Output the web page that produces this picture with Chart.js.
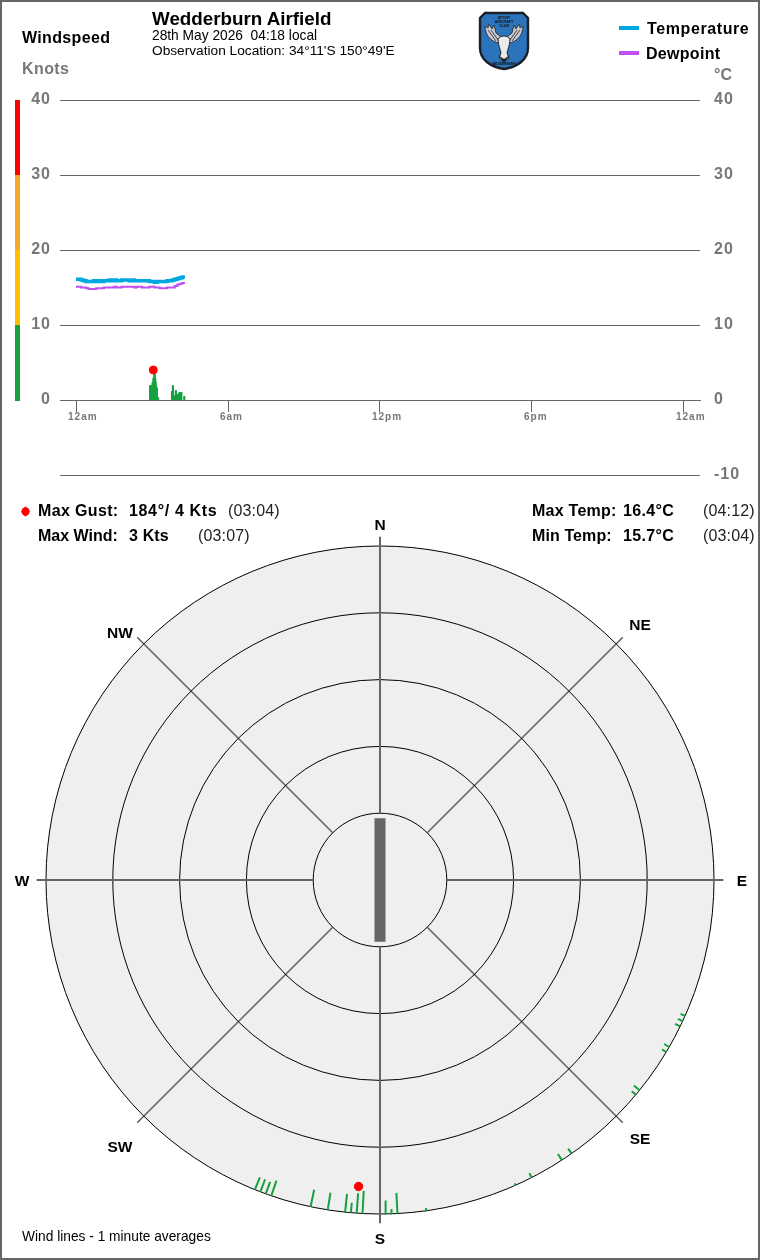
<!DOCTYPE html>
<html><head><meta charset="utf-8"><title>Wedderburn Airfield</title>
<script src="https://cdn.jsdelivr.net/npm/chart.js@4/dist/chart.umd.min.js"></script>
<style>
html,body{margin:0;padding:0;background:#fff}
#page{position:relative;width:760px;height:1260px;overflow:hidden;font-family:"Liberation Sans",Arial,sans-serif;color:#000;background:#fff}
#frame{position:absolute;left:0;top:0;width:756px;height:1256px;border:2px solid #666;pointer-events:none}
canvas{position:absolute;left:0}
.t{position:absolute;white-space:pre;line-height:1;transform:translateY(-50%)}
.b{font-weight:700}
.c{transform:translate(-50%,-50%);font-weight:700;font-size:15.5px}
.sw{position:absolute;width:20px;height:4px}
</style></head><body><div id="page">
<canvas id="line" width="760" height="500" style="top:0"></canvas>
<canvas id="polar" width="760" height="760" style="top:500px"></canvas>
<div id="frame"></div>
<div class="t b" style="left:22px;top:38px;font-size:16px;letter-spacing:.35px">Windspeed</div>
<div class="t b" style="left:22px;top:69px;font-size:16px;letter-spacing:.4px;color:#777">Knots</div>
<div class="t b" style="left:152px;top:19px;font-size:18.8px">Wedderburn Airfield</div>
<div class="t" style="left:152px;top:36px;font-size:13.75px">28th May 2026  04:18 local</div>
<div class="t" style="left:152px;top:51px;font-size:13.7px">Observation Location: 34°11'S 150°49'E</div>
<svg style="position:absolute;left:478px;top:11px" width="52" height="60" viewBox="0 0 52 60">
<path d="M7 2H45L50 7V37C50 49 39 56 26 58C13 56 2 49 2 37V7Z" fill="#2b74bb" stroke="#1a1f28" stroke-width="2.4"/>
<path d="M24 32C16 33 7 26 7 15L10 17L11 13L14 18L16 14L18 22L23 26Z" fill="#c8ccd0" stroke="#2a2f36" stroke-width=".9"/>
<path d="M28 32C36 33 45 26 45 15L42 17L41 13L38 18L36 14L34 22L29 26Z" fill="#c8ccd0" stroke="#2a2f36" stroke-width=".9"/>
<path d="M10 19L18 30M13 19L20 29M42 19L34 30M39 19L32 29" stroke="#333" stroke-width=".9" fill="none"/>
<path d="M20 28C22 24 30 24 32 28C32 33 30 38 29 42L31 47L26 51L21 47L23 42C22 38 20 33 20 28Z" fill="#e8eaec" stroke="#20252b" stroke-width="1"/>
<path d="M20 44L26 52L32 44L26 48Z" fill="#20252b"/>
<text x="26" y="8" font-size="3.6" font-weight="700" text-anchor="middle" fill="#111">SPORT</text>
<text x="26" y="12" font-size="3.6" font-weight="700" text-anchor="middle" fill="#111">AIRCRAFT</text>
<text x="26" y="16" font-size="3.6" font-weight="700" text-anchor="middle" fill="#111">CLUB</text>
<text x="26" y="54" font-size="3.2" font-weight="700" text-anchor="middle" fill="#111">WEDDERBURN</text>
</svg>
<div class="sw" style="left:619px;top:26px;background:#00a8e0"></div>
<div class="sw" style="left:619px;top:51px;background:#c050f0"></div>
<div class="t b" style="left:647px;top:29px;font-size:16px;letter-spacing:.6px">Temperature</div>
<div class="t b" style="left:646px;top:54px;font-size:16px;letter-spacing:.3px">Dewpoint</div>
<div class="t b" style="left:714px;top:75px;font-size:16px;color:#777">°C</div>

<svg style="position:absolute;left:20px;top:506px" width="11" height="11"><path d="M5.5 .5L8.5 2.5L10 5.5L8.5 8.5L5.5 10.5L2.5 8.5L1 5.5L2.5 2.5Z" fill="#f00"/></svg>
<div class="t b" style="left:38px;top:511px;font-size:16px;letter-spacing:.35px">Max Gust:</div>
<div class="t b" style="left:129px;top:511px;font-size:16px;letter-spacing:.65px">184°/ 4 Kts</div>
<div class="t" style="left:228px;top:511px;font-size:16px;letter-spacing:.15px;color:#222">(03:04)</div>
<div class="t b" style="left:38px;top:536px;font-size:16px">Max Wind:</div>
<div class="t b" style="left:129px;top:536px;font-size:16px;letter-spacing:.15px">3 Kts</div>
<div class="t" style="left:198px;top:536px;font-size:16px;letter-spacing:.15px;color:#222">(03:07)</div>
<div class="t b" style="left:532px;top:511px;font-size:16px;letter-spacing:.25px">Max Temp:</div>
<div class="t b" style="left:623px;top:511px;font-size:16px;letter-spacing:.35px">16.4°C</div>
<div class="t" style="left:703px;top:511px;font-size:16px;letter-spacing:.15px;color:#222">(04:12)</div>
<div class="t b" style="left:532px;top:536px;font-size:16px;letter-spacing:.1px">Min Temp:</div>
<div class="t b" style="left:623px;top:536px;font-size:16px;letter-spacing:.35px">15.7°C</div>
<div class="t" style="left:703px;top:536px;font-size:16px;letter-spacing:.15px;color:#222">(03:04)</div>

<div class="t c" style="left:380px;top:525px">N</div>
<div class="t c" style="left:640px;top:625px">NE</div>
<div class="t c" style="left:742px;top:881px">E</div>
<div class="t c" style="left:640px;top:1139px">SE</div>
<div class="t c" style="left:380px;top:1239px">S</div>
<div class="t c" style="left:120px;top:1147px">SW</div>
<div class="t c" style="left:22px;top:881px">W</div>
<div class="t c" style="left:120px;top:633px">NW</div>
<div class="t" style="left:22px;top:1237px;font-size:13.75px">Wind lines - 1 minute averages</div>
</div>
<script>
// ---------- data ----------
const tickMinutes = [0, 360, 720, 1080, 1440];
const tickLabels = ['12am', '6am', '12pm', '6pm', '12am'];
const sampleMinutes = [0,6,12,18,24,30,36,42,48,54,60,66,72,78,84,90,96,102,108,114,120,126,132,138,144,150,156,162,168,174,180,186,192,198,204,210,216,222,228,234,240,246,252,258];
const temperature = [16.1,16.1,16.0,15.9,15.8,15.8,15.8,15.9,15.8,15.9,15.8,15.9,15.9,16.0,15.9,16.0,15.9,15.9,16.0,16.0,16.0,15.9,16.0,15.9,15.9,15.9,15.9,15.9,15.9,15.8,15.8,15.7,15.8,15.8,15.8,15.8,15.9,15.9,16.0,16.1,16.2,16.3,16.4,16.4];
const dewpoint = [15.1,15.1,15.0,15.0,14.9,14.8,14.8,14.8,14.9,14.9,14.9,15.0,15.0,15.0,15.0,15.1,15.0,15.0,15.1,15.1,15.1,15.1,15.1,15.0,15.1,15.1,15.0,15.0,15.0,15.1,15.1,15.0,15.0,14.9,14.9,14.9,15.0,15.0,15.0,15.2,15.4,15.5,15.6,15.6];
const windMinutes = [175,176,177,178,179,180,181,182,183,184,185,186,187,188,189,190,191,192,193,194,195,227,228,229,230,231,232,233,234,235,236,237,238,239,240,241,242,243,244,245,246,247,248,249,250,256,257];
const windSpeeds = [1.9,1.9,1.9,1.9,1.9,2.0,2.3,2.3,2.9,2.9,3.4,3.4,3.4,2.9,2.4,1.9,1.6,1.6,0.3,0.3,0.3,1.1,1.1,1.9,1.9,0.6,0.6,0.4,0.4,0.4,1.25,1.25,0.6,0.6,0.7,0.7,0.7,0.85,0.85,1,1,1,1,1,1,0.45,0.45];
const gustMinute = [183];
const gustSpeed = [4];
const bandEdges = [40, 30, 20, 10, 0];
const bandColors = ['#ff0000', '#f7a72e', '#ffc000', '#18a040'];
const windDirs = [202,201,200,199,192,189,186,186,185,184,183,179,178,177,172,156,153,150,147,145,130,129,121,120,116,115,114];
const windDirSpeeds = [2,2,1.9,2.4,2.6,2.6,2.75,1.4,1.5,3,3.4,2,0.7,3.1,0.4,0.3,0.75,0.1,1.1,0.9,0.8,1.1,0.75,0.9,0.85,0.8,0.75];
const gustDir = [184];
const ringValues = [10, 20, 30, 40, 50];
const cardinalDirs = [0, 90, 180, 270];
const diagonalDirs = [45, 135, 225, 315];
const runwayDir = [0];

// ---------- top chart ----------
const letterSpacer = { id:'letterSpacer', beforeDraw(c){ c.ctx.letterSpacing = '1px'; } };
const windBands = { id:'windBands', afterDraw(c){
  const y = c.scales.y, g = c.ctx;
  g.save();
  bandColors.forEach((col,i)=>{
    const a = y.getPixelForValue(bandEdges[i]), b = y.getPixelForValue(bandEdges[i+1]);
    g.fillStyle = col; g.fillRect(15, a, 5, b-a+(i===bandColors.length-1?1:0));
  });
  g.restore();
}};
new Chart(document.getElementById('line'), {
  type:'line',
  data:{datasets:[
    {type:'scatter',label:'Max gust',data:gustMinute.map((m,i)=>({x:m,y:gustSpeed[i]})),backgroundColor:'#ff0000',borderColor:'#ff0000',pointRadius:4,pointHoverRadius:4,order:0},
    {label:'Temperature',data:sampleMinutes.map((m,i)=>({x:m,y:temperature[i]})),borderColor:'#00a8e0',borderWidth:3.5,pointRadius:0,stepped:true,fill:false,order:2},
    {label:'Dewpoint',data:sampleMinutes.map((m,i)=>({x:m,y:dewpoint[i]})),borderColor:'#c050f0',borderWidth:2.2,pointRadius:0,stepped:true,fill:false,order:3},
    {type:'bar',label:'Windspeed',data:windMinutes.map((m,i)=>({x:m,y:windSpeeds[i]})),backgroundColor:'#18a040',barThickness:1.1,order:4}
  ]},
  options:{
    responsive:false,animation:false,devicePixelRatio:1,
    layout:{autoPadding:false,padding:{top:100,bottom:25}},
    plugins:{legend:{display:false},tooltip:{enabled:false}},
    scales:{
      x:{type:'linear',bounds:'data',position:{y:0},offset:false,min:-37.9,max:1477.9,
        afterBuildTicks(s){s.ticks=tickMinutes.map(v=>({value:v}));},
        grid:{offset:false,drawOnChartArea:false,drawTicks:true,tickLength:11,tickColor:'#666',color:'#666'},
        border:{display:true,color:'#666',width:1},
        ticks:{autoSkip:false,maxRotation:0,align:'start',labelOffset:-8,padding:0,color:'#777',font:{family:'"Liberation Sans"',size:10,weight:'700'},
          callback(v){return tickLabels[tickMinutes.indexOf(v)];}}},
      y:{position:'left',min:-10,max:40,afterFit(s){s.width=60;},
        grid:{color:'#666',lineWidth:1,drawTicks:false},border:{display:false},
        ticks:{stepSize:10,padding:9,color:'#777',font:{family:'"Liberation Sans"',size:16,weight:'700'},callback(v){return v<0?'':v;}}},
      y2:{position:'right',min:-10,max:40,afterFit(s){s.width=60;},
        grid:{display:false,drawTicks:false},border:{display:false},
        ticks:{stepSize:10,padding:14,color:'#777',font:{family:'"Liberation Sans"',size:16,weight:'700'}}}
    }
  },
  plugins:[letterSpacer,windBands]
});

// ---------- polar chart ----------
const unitRange = 380/6.68;
const polarPoint = (dir,r)=>({x:r*Math.sin(dir*Math.PI/180),y:r*Math.cos(dir*Math.PI/180)});
const gap = {x:NaN,y:NaN};
const spokes = dirs => dirs.flatMap(d=>[polarPoint(d,10),polarPoint(d,51.4),gap]);
const rings = { id:'rings',
  beforeDatasetsDraw(c){
    const X=c.scales.x,Y=c.scales.y,g=c.ctx,cx=X.getPixelForValue(0),cy=Y.getPixelForValue(0),u=v=>X.getPixelForValue(v)-cx;
    g.save();g.fillStyle='#efefef';g.beginPath();g.arc(cx,cy,u(50),0,7);g.fill();g.restore();
  },
  afterDatasetDraw(c,a){
    if(a.index!==c.data.datasets.length-1) return;
    const X=c.scales.x,Y=c.scales.y,g=c.ctx,cx=X.getPixelForValue(0),cy=Y.getPixelForValue(0),u=v=>X.getPixelForValue(v)-cx;
    g.save();g.strokeStyle='#000';g.lineWidth=1;
    ringValues.forEach(v=>{g.beginPath();g.arc(cx,cy,u(v),0,7);g.stroke();});
    g.restore();
  }
};
const lineSet=(label,data,color,width)=>({label,data,showLine:true,borderColor:color,borderWidth:width,pointRadius:0,spanGaps:false,borderCapStyle:'butt',clip:false});
new Chart(document.getElementById('polar'), {
  type:'scatter',
  data:{datasets:[
    {label:'Gust',data:gustDir.map((d,i)=>polarPoint(d,50-gustSpeed[i])),backgroundColor:'#ff0000',borderColor:'#ff0000',pointRadius:4.2},
    lineSet('Wind',windDirs.flatMap((d,i)=>[polarPoint(d,50),polarPoint(d,50-windDirSpeeds[i]),gap]),'#18a040',2),
    lineSet('Runway',runwayDir.flatMap(d=>[polarPoint(d,9.25),polarPoint(d+180,9.25)]),'#666666',11),
    lineSet('Cardinal',spokes(cardinalDirs),'#666666',2),
    lineSet('Diagonal',spokes(diagonalDirs),'#666666',1.6)
  ]},
  options:{
    responsive:false,animation:false,devicePixelRatio:1,
    layout:{autoPadding:false,padding:0},
    plugins:{legend:{display:false},tooltip:{enabled:false}},
    scales:{
      x:{type:'linear',bounds:'data',display:false,min:-unitRange,max:unitRange},
      y:{type:'linear',bounds:'data',display:false,min:-unitRange,max:unitRange}
    }
  },
  plugins:[rings]
});
</script></body></html>
